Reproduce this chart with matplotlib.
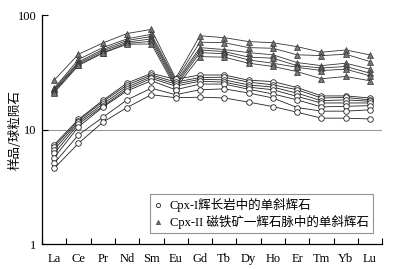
import matplotlib.pyplot as plt
from matplotlib.ticker import FixedLocator, NullLocator

plt.rcParams['font.family'] = ['Liberation Serif', 'Noto Sans CJK SC']

elements = ['La', 'Ce', 'Pr', 'Nd', 'Sm', 'Eu', 'Gd', 'Tb', 'Dy', 'Ho', 'Er', 'Tm', 'Yb', 'Lu']

# Cpx-I, gabbro (open circles)
cpx1 = [
    [7.4, 12.3, 18.0, 25.5, 31.0, 27.5, 30.0, 30.0, 27.0, 26.3, 23.3, 19.7, 19.7, 18.9],
    [7.1, 12.0, 17.5, 24.5, 30.0, 26.0, 28.5, 28.7, 26.0, 24.6, 22.3, 18.9, 19.1, 18.2],
    [6.7, 11.6, 16.7, 23.5, 29.0, 25.0, 27.5, 27.2, 24.6, 23.5, 20.8, 17.9, 18.2, 17.7],
    [6.2, 11.2, 16.0, 22.6, 28.0, 24.0, 26.5, 26.0, 23.5, 22.3, 19.5, 17.1, 17.1, 17.1],
    [5.7, 10.6, 15.7, 21.8, 26.7, 22.3, 25.0, 25.0, 22.5, 20.5, 18.2, 15.8, 16.0, 16.2],
    [5.1, 9.0, 12.8, 18.2, 23.0, 20.2, 22.3, 22.7, 20.9, 18.9, 15.6, 14.5, 14.5, 14.9],
    [4.6, 7.6, 11.6, 15.6, 20.2, 19.0, 19.2, 18.9, 17.4, 15.9, 14.2, 12.6, 12.6, 12.4],
]

# Cpx-II, magnetite-pyroxene veins (filled triangles)
cpx2 = [
    [27.0, 45.5, 57.0, 69.0, 75.0, 28.0, 66.0, 63.5, 58.7, 57.4, 53.0, 47.4, 49.6, 44.9],
    [23.0, 41.0, 52.0, 62.0, 68.0, 27.0, 58.0, 57.4, 52.0, 51.3, 45.0, 44.3, 45.5, 39.3],
    [22.5, 39.0, 50.0, 60.0, 65.0, 26.0, 52.0, 50.0, 47.0, 45.0, 38.5, 36.2, 38.0, 33.7],
    [22.0, 38.0, 48.5, 58.0, 62.0, 25.0, 49.6, 48.0, 43.0, 42.0, 36.2, 34.5, 35.6, 31.1],
    [21.5, 37.0, 47.0, 56.5, 59.0, 24.0, 47.0, 46.0, 40.6, 38.0, 35.0, 32.8, 33.7, 29.5],
    [21.0, 36.3, 46.5, 55.6, 56.0, 23.0, 43.4, 42.9, 38.0, 35.6, 32.1, 27.8, 29.1, 26.7],
]

labels = ['Cpx-I辉长岩中的单斜辉石', 'Cpx-II 磁铁矿一辉石脉中的单斜辉石']

fig = plt.figure(figsize=(4.04, 2.69), dpi=100)
ax = fig.add_axes([0.104, 0.092, 0.842, 0.852])

x = list(range(len(elements)))
for i, s in enumerate(cpx2):
    ax.plot(x, s, color='#333333', lw=0.6, marker='^', ms=4, mfc='#777777',
            mec='#333333', mew=0.5, label=labels[1] if i == 0 else None, zorder=3)
for i, s in enumerate(cpx1):
    ax.plot(x, s, color='#222222', lw=0.6, marker='o', ms=4, mfc='white',
            mec='#222222', mew=0.6, label=labels[0] if i == 0 else None, zorder=4)

ax.set_yscale('log')
ax.set_ylim(1, 100)
ax.set_xlim(-0.5, 13.5)
ax.axhline(10, color='#999999', lw=0.8, zorder=1)

ax.spines['top'].set_visible(False)
ax.spines['right'].set_visible(False)
ax.spines['left'].set_linewidth(0.9)
ax.spines['bottom'].set_linewidth(0.9)

ax.set_xticks(x)
ax.set_xticklabels(elements, fontsize=9)
ax.xaxis.set_minor_locator(FixedLocator([i + 0.5 for i in range(-1, 14)]))
ax.tick_params(axis='x', which='major', length=0, pad=6)
ax.tick_params(axis='x', which='minor', direction='in', length=4, width=0.8)

ax.set_yticks([1, 10, 100])
ax.set_yticklabels(['1', '10', '100'], fontsize=9)
ax.yaxis.set_minor_locator(NullLocator())
ax.tick_params(axis='y', direction='in', length=4, width=0.8, pad=4)

ax.set_ylabel('样品/球粒陨石', fontsize=9, family=['Noto Sans CJK SC'])
ax.yaxis.set_label_coords(-0.059, 0.5)

handles, labs = ax.get_legend_handles_labels()
order = [labs.index(labels[0]), labs.index(labels[1])]
leg = ax.legend([handles[i] for i in order], [labs[i] for i in order],
                loc='upper left', bbox_to_anchor=(0.318, 0.219), borderaxespad=0,
                fontsize=9, frameon=True, fancybox=False, handlelength=0.6,
                handletextpad=0.6, labelspacing=0.2, borderpad=0.35, markerscale=0.75)
leg.get_frame().set_edgecolor('#777777')
leg.get_frame().set_linewidth(0.8)
for h in leg.legend_handles:
    h.set_linestyle('none')

fig.savefig('out.png', dpi=100)
